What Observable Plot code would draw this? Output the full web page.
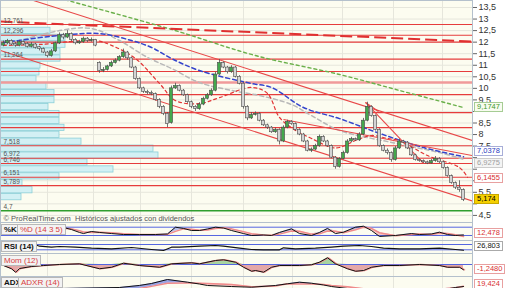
<!DOCTYPE html>
<html><head><meta charset="utf-8">
<script src="https://cdn.jsdelivr.net/npm/d3@7"></script>
<script src="https://cdn.jsdelivr.net/npm/@observablehq/plot@0.6"></script>
<style>
html,body{margin:0;padding:0;background:#fff;}
#wrap{position:relative;width:512px;height:288px;overflow:hidden;font-family:"Liberation Sans",Arial,sans-serif;}
#wrap svg{display:block}
.vb{position:absolute;left:474px;height:8px;line-height:8px;font-size:7.5px;padding:0 2px;border:1px solid;white-space:nowrap;}
.pl{position:absolute;height:9px;line-height:9px;font-size:8px;padding:0 2px;border:1px solid #b8b8b8;background:#f3f3f3;white-space:nowrap;}
</style></head>
<body><div id="wrap"></div>
<script>
// ---------- data ----------
const candleOpen = [11.85,11.95,12.05,11.92,11.85,12.0,11.92,11.8,11.9,11.78, 11.7,11.55,11.4,11.6,11.95,12.3,12.2,12.35,12.1,11.95, 12.0,12.15,12.05,12.1,11.1,10.75,10.8,10.95,11.1,11.2, 11.35,11.55,11.3,10.9,10.4,10.0,9.85,9.8,9.75,9.5, 9.2,8.9,8.5,10.0,10.1,9.9,9.7,9.4,9.2,9.1, 9.3,9.55,9.7,9.9,10.6,11.1,10.9,10.7,10.9,10.5, 10.2,9.2,8.7,8.85,8.9,8.6,8.4,8.3,8.1,8.2, 7.7,8.3,8.55,8.45,8.2,8.0,7.7,7.3,7.35,7.5, 7.9,7.7,7.5,7.0,6.6,6.95,7.2,7.7,7.8,7.75, 8.0,8.6,9.2,8.8,8.2,7.5,7.3,7.2,6.9,7.4, 7.7,7.65,7.4,7.1,6.9,6.85,6.8,6.75,6.85,6.95, 6.8,6.55,6.2,5.9,5.7,5.6];
const candleClose = [11.95,12.05,11.9,11.85,12.0,11.9,11.8,11.9,11.75,11.7, 11.55,11.4,11.6,11.95,12.3,12.2,12.35,12.1,11.95,12.0, 12.15,12.05,12.1,11.85,10.75,10.8,10.95,11.1,11.2,11.35, 11.55,11.3,10.9,10.4,10.0,9.85,9.8,9.75,9.5,9.2, 8.9,8.45,10.0,10.1,9.9,9.7,9.4,9.2,9.1,9.3, 9.55,9.7,9.9,10.6,11.1,10.9,10.7,10.9,10.5,10.2, 9.2,8.7,8.85,8.9,8.6,8.4,8.3,8.1,8.2,7.7, 8.3,8.55,8.45,8.2,8.0,7.7,7.3,7.35,7.5,7.9, 7.7,7.5,7.0,6.6,6.95,7.2,7.7,7.8,7.75,8.0, 8.6,9.2,8.8,8.2,7.5,7.3,7.2,6.9,7.4,7.7, 7.65,7.4,7.1,6.9,6.85,6.8,6.75,6.85,6.95,6.8, 6.55,6.2,5.9,5.7,5.6,5.174];
const candleHigh = [12.05,12.12,12.1,11.98,12.08,12.05,11.98,11.98,11.95,11.82, 11.75,11.6,11.68,12.0,12.4,12.38,12.5,12.4,12.15,12.08, 12.22,12.2,12.18,12.12,11.15,10.9,11.0,11.18,11.28,11.42, 11.7,11.6,11.35,10.95,10.45,10.05,9.92,9.88,9.8,9.55, 9.25,8.95,10.1,10.22,10.15,9.95,9.75,9.45,9.25,9.38, 9.62,9.78,9.98,10.7,11.25,11.15,10.95,10.98,10.95,10.55, 10.25,9.25,8.95,8.98,8.95,8.65,8.45,8.35,8.28,8.25, 8.38,8.62,8.6,8.5,8.25,8.05,7.75,7.42,7.58,7.98, 7.95,7.75,7.55,7.05,7.0,7.28,7.78,7.88,7.85,8.08, 8.7,9.4,9.25,8.85,8.25,7.55,7.38,7.25,7.48,7.8, 7.75,7.7,7.45,7.15,6.95,6.9,6.85,6.92,7.05,7.0, 6.85,6.6,6.25,5.95,6.0,5.65];
const candleLow = [11.8,11.9,11.85,11.78,11.8,11.85,11.75,11.75,11.7,11.62, 11.5,11.32,11.35,11.55,11.9,12.1,12.15,12.02,11.88,11.9, 11.95,11.98,12.0,11.8,10.65,10.68,10.75,10.9,11.05,11.15, 11.3,11.22,10.85,10.35,9.95,9.78,9.72,9.68,9.45,9.12, 8.82,8.3,8.45,9.95,9.85,9.65,9.35,9.12,9.0,9.05, 9.25,9.5,9.65,9.85,10.55,10.85,10.62,10.65,10.45,10.15, 9.1,8.6,8.65,8.8,8.55,8.35,8.22,8.05,8.05,7.55, 7.65,8.25,8.4,8.15,7.95,7.65,7.25,7.22,7.3,7.45, 7.65,7.45,6.95,6.5,6.55,6.9,7.15,7.65,7.7,7.7, 7.95,8.55,8.75,8.15,7.45,7.25,7.12,6.8,6.85,7.35, 7.6,7.35,7.05,6.85,6.8,6.75,6.7,6.72,6.8,6.75, 6.5,6.15,5.85,5.62,5.5,5.1];

const priceTicks = [4.5,5,5.5,6,6.5,7,7.5,8,8.5,9,9.5,10,10.5,11,11.5,12,12.5,13,13.5];
const hiddenTickLabels = [5,6,6.5,7,9];
const gridIdx = [11, 22.5, 34.25, 47, 60, 72.25, 84.75, 97.5, 109.75];

const redLevels = [12.761,12.296,12.0,11.264,10.73,9.73,8.95,8.30,7.518,6.972,6.746,6.151,5.789];
const pinkLevels = [10.25];
const supportLevel = [4.7];
const levelLabelValues = [12.761,12.296,11.264,7.518,6.972,6.746,6.151,5.789,4.7];
const levelLabels = ["12,761","12,296","11,264","7,518","6,972","6,746","6,151","5,789","4,7"];

const profileLevels = [5.29,5.59,5.89,6.19,6.49,6.79,7.09,7.39,7.69,7.99,8.29,8.59,8.89,9.19,9.49,9.79,10.09,10.39,10.69,10.99,11.29,11.59,11.89,12.19,12.49];
const profileVolume = [21,32,22,59,113,87,158,153,81,59,64,59,59,48,54,54,46,36,39,40,60,60,65,65,50];

const greenMAIdx = [14,42,63,84,99,115];
const greenMAVal = [13.9,12.55,11.42,10.60,9.91,9.17];
const blueMAIdx = [0,14,24,32,37,42,49,62,67,75,84,94,105,115];
const blueMAVal = [11.98,12.29,12.37,12.07,11.77,11.29,10.77,10.21,10.04,9.17,8.69,8.05,7.44,7.04];
const grayMAIdx = [0,14,22,29,36,42,49,57,64,72,77,84,97,109,115];
const grayMAVal = [11.86,12.5,12.59,12.07,11.34,10.86,10.25,9.91,9.69,9.3,8.82,8.18,7.66,7.22,6.93];
const redMAIdx = [0,9,23,27,33,39,43,49,54,62,66,69,73,77,82,84,88,92,96,99,106,114,116];
const redMAVal = [11.86,11.9,12.07,11.86,11.29,10.21,9.47,9.34,9.6,10.04,9.78,8.74,8.18,7.83,7.44,7.44,7.74,7.96,7.83,7.74,7.09,6.57,6.15];

const trendX1 = [7.5,-0.75,70,90.5,90.5];
const trendY1 = [13.80,11.64,8.65,9.39,9.39];
const trendX2 = [117.25,117.25,117.25,105,93.75];
const trendY2 = [7.74,5.12,7.09,6.75,9.0];
const dashedX = [-0.75,117.25];
const dashedY = [12.89,12.03];

const stochIdx = [15,17,19,20,22,24,27,30,34,38,41,43,45,47,49,51,53,55,57,60,62,65,67,69,72,74,77,79,81,83,85,88,90,92,94,98,102,104,107,109,111,113,115];
const stochK = [78,63,42,34,49,42,34,27,27,27,31,80,71,56,56,67,80,74,56,34,20,24,20,42,68,34,20,42,71,34,44,80,87,56,13,20,34,27,31,44,27,20,24];
const stochD = [70,68,55,45,42,44,40,32,28,27,28,50,68,66,58,60,70,76,68,48,32,24,22,30,52,50,30,32,52,50,40,62,80,72,40,18,28,30,28,36,35,25,12.5];
const rsiIdx = [8,9,12,14,18,22,27,32,37,40,42,44,49,53,55,59,62,65,69,70,73,78,82,85,89,92,95,99,104,109,113,115];
const rsiVal = [67.7,57.2,49.6,54.9,49.6,42.1,37.5,47.4,32.3,24.7,49.6,49.6,57.2,62.5,57.2,42.1,32.3,30,30,45,37.5,42.1,49.6,57.2,62.5,54.9,42.1,37.5,37.5,42.1,32.3,26.8];
const momIdx = [0,2,3,4,7,10,14,19,24,27,30,34,39,42,47,49,53,55,58,60,62,63,65,67,69,72,74,77,79,81,83,86,88,90,92,95,99,104,109,111,114,115];
const momVal = [-0.24,-1.0,-1.81,-0.94,-0.47,-0.24,0,0.16,-1.0,-0.64,0.31,-0.24,-0.64,0.16,0.4,0.16,0.94,1.11,0.54,-0.64,-1.58,-1.41,-1.81,-0.64,-0.24,-0.24,-0.24,-0.07,0.54,1.58,0.16,-1.0,-1.58,-1.41,-0.64,-0.24,-0.24,0,-0.24,-0.64,-0.64,-1.248];
const adxIdx = [14,29,34,37,41,46,49,51,57,62,68,71,74,77,80,82,86,88,90,94,99,104,109,113,115];
const adxVal = [14.5,16.6,21,25.1,33.6,27.9,24,20.9,18.7,17.2,20.9,24.5,27.9,25.7,22,18.7,14.5,12.5,10.2,8.1,7,8,11,16.6,18.7];
const adxrVal = [10,12,14.5,19,25.7,26,25.7,25,23,18,20,24.5,24,24,23,21,18,16,14,12,10.2,11,13,16,19.4];

// ---------- build ----------
const fmt = d => String(d).replace(".", ",");
const xDomain = [-0.75, 117.25];
const BG = "#fcfcf0", GRID = "#e6e6dc", BORDER = "#b4c0cc";
const FONT = "Liberation Sans, Arial, sans-serif";
const candles = candleClose.map((c, i) => ({i, open: candleOpen[i], high: candleHigh[i], low: candleLow[i], close: c}));
const pts = (xs, ys) => xs.map((x, k) => ({x, y: ys[k]}));
const profile = profileLevels.map((v, k) => ({v, vol: profileVolume[k]}));
const trends = trendX1.map((x, k) => ({x1: x, y1: trendY1[k], x2: trendX2[k], y2: trendY2[k]}));

const wrap = document.getElementById("wrap");

const main = Plot.plot({
  width: 512, height: 222, marginTop: 0, marginBottom: 0, marginLeft: 0, marginRight: 40,
  x: {domain: xDomain, axis: null},
  y: {domain: [4.193, 13.803], axis: null},
  style: {fontFamily: FONT, background: "transparent"},
  marks: [
    Plot.frame({fill: BG}),
    Plot.ruleY(priceTicks, {stroke: GRID}),
    Plot.ruleX(gridIdx, {stroke: GRID}),
    Plot.rect(profile, {x1: -0.75, x2: d => -0.75 + d.vol / 4, y1: d => d.v - 0.135, y2: d => d.v + 0.135, fill: "#d2f0f4", stroke: "#8ccfd8", strokeWidth: 0.8}),
    Plot.ruleY(redLevels, {stroke: "#e63c3c", strokeWidth: 1.1}),
    Plot.ruleY(pinkLevels, {stroke: "#f09a9a", strokeWidth: 2.5}),
    Plot.ruleY(supportLevel, {stroke: "#2f9e2f", strokeWidth: 1.5}),
    Plot.line(pts(greenMAIdx, greenMAVal), {x: "x", y: "y", stroke: "#6ab04a", strokeWidth: 1.4, strokeDasharray: "3,3", clip: true, curve: "catmull-rom"}),
    Plot.line(pts(grayMAIdx, grayMAVal), {x: "x", y: "y", stroke: "#b8b8b8", strokeWidth: 1.5, strokeDasharray: "4,3", clip: true, curve: "catmull-rom"}),
    Plot.line(pts(blueMAIdx, blueMAVal), {x: "x", y: "y", stroke: "#3444cc", strokeWidth: 1.5, strokeDasharray: "4,3", clip: true, curve: "catmull-rom"}),
    Plot.line(pts(redMAIdx, redMAVal), {x: "x", y: "y", stroke: "#e23434", strokeWidth: 1.2, strokeDasharray: "3,3", clip: true, curve: "catmull-rom"}),
    Plot.link(trends, {x1: "x1", y1: "y1", x2: "x2", y2: "y2", stroke: "#e84848", strokeWidth: 1.1, clip: true}),
    Plot.link([{x1: dashedX[0], y1: dashedY[0], x2: dashedX[1], y2: dashedY[1]}], {x1: "x1", y1: "y1", x2: "x2", y2: "y2", stroke: "#e03030", strokeWidth: 2, strokeDasharray: "12,5", clip: true}),
    Plot.ruleX(candles, {x: "i", y1: "low", y2: "high", stroke: "#505050", strokeWidth: 0.8}),
    Plot.rect(candles, {x1: d => d.i - 0.38, x2: d => d.i + 0.38, y1: "open", y2: "close", fill: d => d.close >= d.open ? "#44a84c" : "#d4d4d4", stroke: "#484848", strokeWidth: 0.6}),
    Plot.text(levelLabelValues, {x: -0.75, y: d => d, text: (d, k) => levelLabels[k], dx: 3, dy: -4, textAnchor: "start", fontSize: 6.5, fill: "#555"}),
    Plot.text(["© ProRealTime.com  Históricos ajustados con dividendos"], {frameAnchor: "bottom-left", dx: 3, dy: -2, textAnchor: "start", fontSize: 7.5, fill: "#555"}),
    Plot.axisY(priceTicks, {anchor: "right", tickSize: 4, tickPadding: 2, tickFormat: d => hiddenTickLabels.includes(d) ? "" : fmt(d), fontSize: 9, fill: "#333", stroke: "#666"}),
    Plot.frame({stroke: BORDER})
  ]
});
wrap.appendChild(main);

function panel(h, domain, marks) {
  const p = Plot.plot({
    width: 512, height: h, marginTop: 0, marginBottom: 0, marginLeft: 0, marginRight: 40,
    x: {domain: xDomain, axis: null}, y: {domain, axis: null},
    style: {fontFamily: FONT, background: "transparent"},
    marks: [Plot.frame({fill: BG}), Plot.ruleX(gridIdx, {stroke: GRID}), ...marks, Plot.frame({stroke: BORDER})]
  });
  wrap.appendChild(p);
  return p;
}

const stochData = stochIdx.map((x, k) => ({x, k: stochK[k], d: stochD[k]}));
const stoch = panel(18, [-16.2, 114], [
  Plot.areaY(stochData, {x: "x", y1: "d", y2: d => Math.max(d.k, d.d), fill: "#9aa4e4", fillOpacity: 0.7, clip: true}),
  Plot.areaY(stochData, {x: "x", y1: "k", y2: d => Math.max(d.k, d.d), fill: "#f4b4b4", fillOpacity: 0.7, clip: true}),
  Plot.ruleY([80, 20], {stroke: "#5566e0"}),
  Plot.line(stochData, {x: "x", y: "d", stroke: "#f08a8a", strokeWidth: 1.5, clip: true}),
  Plot.line(stochData, {x: "x", y: "k", stroke: "#111", strokeWidth: 1, clip: true})
]);
const rsi = panel(13, [2.1, 100.2], [
  Plot.ruleY([70, 30], {stroke: "#5566e0"}),
  Plot.line(pts(rsiIdx, rsiVal), {x: "x", y: "y", stroke: "#111", strokeWidth: 1.2, clip: true})
]);
const momData = momIdx.map((x, k) => ({x, v: momVal[k]}));
const mom = panel(23, [-2.82, 2.59], [
  Plot.areaY(momData, {x: "x", y1: 0, y2: d => Math.max(d.v, 0), fill: "#a8d4a0", clip: true}),
  Plot.areaY(momData, {x: "x", y1: 0, y2: d => Math.min(d.v, 0), fill: "#e4a8a8", clip: true}),
  Plot.ruleY([0], {stroke: "#5566e0"}),
  Plot.line(momData, {x: "x", y: "v", stroke: "#f09090", strokeWidth: 1.5, dx: 1, clip: true}),
  Plot.line(momData, {x: "x", y: "v", stroke: "#111", strokeWidth: 1, clip: true})
]);
const adxData = adxIdx.map((x, k) => ({x, a: adxVal[k], r: adxrVal[k]}));
const adx = panel(12, [14.5, 40], [
  Plot.areaY(adxData, {x: "x", y1: "r", y2: d => Math.max(d.a, d.r), fill: "#9aa4e4", clip: true}),
  Plot.areaY(adxData, {x: "x", y1: "a", y2: d => Math.max(d.a, d.r), fill: "#f4b8b8", fillOpacity: 0.7, clip: true}),
  Plot.line(adxData, {x: "x", y: "r", stroke: "#f08a8a", strokeWidth: 1.5, clip: true}),
  Plot.line(adxData, {x: "x", y: "a", stroke: "#111", strokeWidth: 1, clip: true})
]);

// ---------- boxed labels ----------
function box(cls, text, left, top, color, bg, border, extra) {
  const s = document.createElement("span");
  s.className = cls;
  s.textContent = text;
  s.style.top = top + "px";
  if (left !== null) s.style.left = left + "px";
  s.style.color = color;
  if (bg) s.style.background = bg;
  if (border) s.style.borderColor = border;
  if (extra) Object.assign(s.style, extra);
  wrap.appendChild(s);
}
const yMain = v => main.scale("y").apply(v);
const mainBoxes = [
  {v: 9.1747, dy: 0, c: "#3f9a2c", bg: "#f8fcf0", b: "#a6cc94"},
  {v: 7.0378, dy: -5, c: "#2a3ac0", bg: "#ffffff", b: "#a8aed8"},
  {v: 6.9275, dy: 4, c: "#a0a0a0", bg: "#f4f4f4", b: "#cccccc"},
  {v: 6.1455, dy: 1.5, c: "#d83030", bg: "#ffffff", b: "#e8a0a0"},
  {v: 5.174, dy: 0, c: "#000000", bg: "#f5d000", b: "#c8a800"}
];
mainBoxes.forEach(m => box("vb", fmt(m.v), null, yMain(m.v) + m.dy - 5, m.c, m.bg, m.b));

const panelBoxes = [
  {p: stoch, top: 222, v: 12.478, dy: -3, c: "#d83030", b: "#e8a0a0"},
  {p: rsi, top: 240, v: 26.803, dy: -3.5, c: "#111", b: "#aaaaaa"},
  {p: mom, top: 253, v: -1.248, dy: 0, c: "#d83030", b: "#e8a0a0", t: "-1,2480"},
  {p: adx, top: 276, v: 19.424, dy: -2, c: "#d83030", b: "#e8a0a0"}
];
panelBoxes.forEach(m => box("vb", m.t || fmt(m.v), null, m.top + m.p.scale("y").apply(m.v) + m.dy - 5, m.c, "#ffffff", m.b));

box("pl", "%K", 1, 224, "#111", null, null, {fontWeight: "bold"});
box("pl", "%D (14 3 5)", 17, 224, "#d84040");
box("pl", "RSI (14)", 1, 241, "#111", null, null, {fontWeight: "bold"});
box("pl", "Mom (12)", 1, 255, "#d84040");
box("pl", "ADX", 1, 277, "#111", null, null, {fontWeight: "bold"});
box("pl", "ADXR (14)", 18, 277, "#d84040");
</script></body></html>
